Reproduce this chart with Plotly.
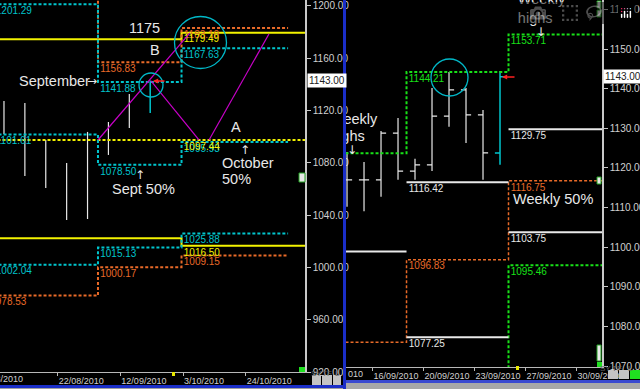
import plotly.graph_objects as go

# ---------------- data: left panel (weekly bars, monthly levels) ----------------
week_dates = ["2010-08-04", "2010-08-11", "2010-08-18", "2010-08-25",
              "2010-09-01", "2010-09-08", "2010-09-15"]
week_open = [1103.0, 1118.1, 1076.8, 1068.4, 1063.8, 1103.6, 1109.7]
week_high = [1127.3, 1125.7, 1097.4, 1079.8, 1103.6, 1111.2, 1132.6]
week_low = [1102.0, 1069.9, 1060.7, 1036.3, 1037.0, 1086.0, 1106.6]
week_close = [1118.9, 1075.3, 1069.9, 1063.0, 1102.8, 1108.1, 1118.1]

cur_week_date = ["2010-09-22"]
cur_week_open = [1118.1]
cur_week_high = [1143.0]
cur_week_low = [1118.1]
cur_week_close = [1143.0]

month_edges = ["2010-07-31 12:00", "2010-09-04 12:00", "2010-10-02 12:00", "2010-11-07 05:00"]
long_edges = ["2010-07-01", "2010-09-04 12:00", "2010-10-02 12:00", "2010-11-30"]
m_cyan_top = [1201.29, 1141.88, 1167.63]
m_cyan_mid = [1101.61, 1078.50, 1095.93]
m_cyan_bot = [1002.04, 1015.13, 1025.88]
m_orange_top = [1212.00, 1156.83, 1183.10]
m_orange_bot = [978.53, 1000.17, 1009.15]
m_yellow_top = [1174.40, 1174.40, 1179.49]
m_yellow_mid = [1097.44, 1097.44, 1097.44]
m_yellow_bot = [1022.30, 1022.30, 1016.50]

trend1_x = ["2010-09-04 12:00", "2010-10-05 08:00"]
trend1_y = [1097.44, 1179.30]
trend2_x = ["2010-09-22 06:00", "2010-10-08 08:00"]
trend2_y = [1142.60, 1097.44]
trend3_x = ["2010-10-11 17:00", "2010-10-31 19:00"]
trend3_y = [1097.44, 1178.50]

left_tick_dates = ["2010-08-22", "2010-09-12", "2010-10-03", "2010-10-24"]
left_tick_text = ["22/08/2010", "12/09/2010", "3/10/2010", "24/10/2010"]
left_y_ticks = [920, 960, 1000, 1040, 1080, 1120, 1160, 1200]

# ---------------- data: right panel (daily bars, weekly levels) ----------------
sessions = ["14/09/2010", "15/09/2010", "16/09/2010", "17/09/2010", "19/09/2010",
            "20/09/2010", "21/09/2010", "22/09/2010", "23/09/2010", "24/09/2010",
            "26/09/2010", "27/09/2010", "28/09/2010", "29/09/2010", "30/09/2010",
            "01/10/2010"]
day_open = [1117.0, 1117.0, 1117.0, 1128.8, 1119.2, 1120.8, 1133.1, 1139.7, 1133.4]
day_high = [1124.0, 1121.5, 1129.3, 1132.6, 1122.3, 1140.2, 1144.21, 1140.2, 1134.6]
day_low = [1110.2, 1109.1, 1112.7, 1117.0, 1117.0, 1119.2, 1130.4, 1126.3, 1117.0]
day_close = [1117.0, 1117.0, 1128.8, 1119.2, 1120.8, 1133.1, 1139.7, 1133.4, 1123.8]
cur_day_open = [1123.8]
cur_day_high = [1144.5]
cur_day_low = [1120.8]
cur_day_close = [1143.0]

week_starts = ["19/09/2010", "26/09/2010"]
w_green_high = [1123.70, 1144.21, 1153.71]
w_green_low = [1050.00, 1055.00, 1095.46]
w_orange_mid = [1076.00, 1096.83, 1116.75]
w_white = [[1098.90], [1116.42, 1077.25], [1129.75, 1103.75]]

right_tick_text = ["16/09/2010", "20/09/2010", "23/09/2010", "27/09/2010", "30/09/2010"]

# ---------------- helpers ----------------
W, H = 640, 389
MB = 17
PH = H - MB

def px(x):
    return x / W

def py(y):
    return (PH - y) / PH

CYAN = "#00c4cc"
ORANGE = "#e86a28"
YELLOW = "#f2f200"
GREEN = "#18e018"
WHITE = "#e8e8e8"
MAGENTA = "#c800c8"
LBL_FONT = "Liberation Sans Narrow, Liberation Sans, Arial"
TXT_FONT = "Liberation Sans, Arial"
ARROW_FONT = "DejaVu Sans"

fig = go.Figure()

def step(edges, vals, color, dash, width, xa, ya):
    fig.add_trace(go.Scatter(
        x=list(edges), y=list(vals) + [vals[-1]], mode="lines",
        line=dict(shape="hv", color=color, dash=dash, width=width),
        xaxis=xa, yaxis=ya, hoverinfo="skip", showlegend=False))

def labels(xs, vals, color, xa, ya):
    fig.add_trace(go.Scatter(
        x=list(xs), y=list(vals), mode="markers+text",
        text=[f"{v:.2f}" for v in vals], textposition="bottom right",
        textfont=dict(family=LBL_FONT, size=10, color=color),
        marker=dict(size=2, color="rgba(0,0,0,0)"),
        cliponaxis=True, xaxis=xa, yaxis=ya, hoverinfo="skip", showlegend=False))

DASH = "3px,2px"

# ---- left panel levels
step(long_edges, m_yellow_top, YELLOW, "solid", 2, "x", "y")
step(long_edges, m_yellow_bot, YELLOW, "solid", 2, "x", "y")
step(long_edges, m_yellow_mid, YELLOW, DASH, 2, "x", "y")
for vals in (m_orange_top, m_orange_bot):
    step(month_edges, vals, ORANGE, DASH, 2, "x", "y")
for vals in (m_cyan_top, m_cyan_mid, m_cyan_bot):
    step(month_edges, vals, CYAN, DASH, 2, "x", "y")

for vals in (m_orange_top, m_orange_bot):
    labels(month_edges[:3], vals, ORANGE, "x", "y")
for vals in (m_cyan_top, m_cyan_mid, m_cyan_bot):
    labels(month_edges[:3], vals, CYAN, "x", "y")
labels([long_edges[2]] * 3, [m_yellow_top[2], m_yellow_mid[2], m_yellow_bot[2]], YELLOW, "x", "y")

for tx, ty in ((trend1_x, trend1_y), (trend2_x, trend2_y), (trend3_x, trend3_y)):
    fig.add_trace(go.Scatter(x=tx, y=ty, mode="lines", line=dict(color=MAGENTA, width=1.2),
                             xaxis="x", yaxis="y", hoverinfo="skip", showlegend=False))

fig.add_trace(go.Ohlc(x=week_dates, open=week_open, high=week_high, low=week_low, close=week_close,
                      increasing_line_color=WHITE, decreasing_line_color=WHITE,
                      line_width=1.2, tickwidth=0.33, xaxis="x", yaxis="y", showlegend=False))
fig.add_trace(go.Ohlc(x=cur_week_date, open=cur_week_open, high=cur_week_high, low=cur_week_low,
                      close=cur_week_close, increasing_line_color=CYAN, decreasing_line_color=CYAN,
                      line_width=1.5, tickwidth=0.33, xaxis="x", yaxis="y", showlegend=False))

# ---- right panel levels
week_edges = [-4.5] + [sessions.index(d) - 0.5 for d in week_starts] + [len(sessions) - 0.5]
step(week_edges, w_green_low, GREEN, DASH, 2, "x2", "y2")
step(week_edges, w_orange_mid, ORANGE, DASH, 1.5, "x2", "y2")
step(week_edges, w_green_high, GREEN, DASH, 2, "x2", "y2")
wx, wy, lx, lv = [], [], [], []
for k, lvls in enumerate(w_white):
    for v in lvls:
        wx += [week_edges[k], week_edges[k + 1], None]
        wy += [v, v, None]
        lx.append(week_edges[k])
        lv.append(v)
fig.add_trace(go.Scatter(x=wx, y=wy, mode="lines", line=dict(color=WHITE, width=2),
                         xaxis="x2", yaxis="y2", hoverinfo="skip", showlegend=False))
labels(lx, lv, WHITE, "x2", "y2")
labels(week_edges[:3], w_green_high, GREEN, "x2", "y2")
labels(week_edges[:3], w_green_low, GREEN, "x2", "y2")
labels(week_edges[:3], w_orange_mid, ORANGE, "x2", "y2")

day_x = list(range(len(day_open)))
fig.add_trace(go.Ohlc(x=day_x, open=day_open, high=day_high, low=day_low, close=day_close,
                      increasing_line_color=WHITE, decreasing_line_color=WHITE,
                      line_width=1.2, tickwidth=0.3, xaxis="x2", yaxis="y2", showlegend=False))
fig.add_trace(go.Ohlc(x=[len(day_open)], open=cur_day_open, high=cur_day_high, low=cur_day_low,
                      close=cur_day_close, increasing_line_color=CYAN, decreasing_line_color=CYAN,
                      line_width=1.5, tickwidth=0.3, xaxis="x2", yaxis="y2", showlegend=False))

# "Weekly highs" texts inside right panel (clipped by the panel)
wk_txt = ["Weekly", "highs", "Weekly", "highs"]
wk_x = [-1.0, -1.0, 10.05, 10.05]
wk_y = [1132.1, 1127.8, 1162.35, 1157.6]
fig.add_trace(go.Scatter(x=wk_x, y=wk_y, mode="text", text=wk_txt, textposition="middle right",
                         textfont=dict(family=TXT_FONT, size=14.5, color=WHITE), cliponaxis=True,
                         xaxis="x2", yaxis="y2", hoverinfo="skip", showlegend=False))
fig.add_trace(go.Scatter(x=[0.3, 11.4], y=[1124.3, 1154.1], mode="text", text=["↓", "↓"],
                         textposition="middle center",
                         textfont=dict(family=ARROW_FONT, size=12, color=WHITE), cliponaxis=True,
                         xaxis="x2", yaxis="y2", hoverinfo="skip", showlegend=False))

# ---------------- layout ----------------
axfont = dict(family=LBL_FONT, size=10, color="#d0d0d0")
common_x = dict(showgrid=False, zeroline=False, showline=True, linecolor="#b8b8b8", linewidth=1,
                ticks="outside", ticklen=3, tickcolor="#b8b8b8", tickangle=0, automargin=False,
                tickfont=dict(family=LBL_FONT, size=9, color="#d0d0d0"),
                ticklabelposition="outside right", rangeslider=dict(visible=False), fixedrange=True)
common_y = dict(showgrid=False, zeroline=False, showline=True, linecolor="#c8c8c8", linewidth=1.5,
                side="right", ticks="outside", ticklen=4, tickcolor="#c8c8c8", automargin=False,
                tickfont=axfont, tickformat=".2f", fixedrange=True)

fig.update_layout(
    width=W, height=H, margin=dict(l=0, r=0, t=0, b=MB, autoexpand=False),
    paper_bgcolor="black", plot_bgcolor="black", showlegend=False,
    xaxis=dict(domain=[0, px(305)], type="date",
               range=["2010-08-02 16:00", "2010-11-12 21:00"],
               tickmode="array", tickvals=left_tick_dates, ticktext=left_tick_text,
               anchor="y", **common_x),
    yaxis=dict(domain=[0, 1], range=[920, 1204.5], tickmode="array", tickvals=left_y_ticks,
               anchor="x", **common_y),
    xaxis2=dict(domain=[px(346), px(602)], range=[-0.06, 15.0], tickmode="array",
                tickvals=[sessions.index(t) - 0.5 for t in right_tick_text], ticktext=right_tick_text,
                anchor="y2", **common_x),
    yaxis2=dict(domain=[5 / PH, 1], range=[1069.75, 1162.4], dtick=10, tick0=1070,
                anchor="x2", **common_y),
)

ann = []
def text(x, y, s, size=14.5, xanchor="center", color=WHITE, font=TXT_FONT):
    ann.append(dict(xref="paper", yref="paper", x=px(x), y=py(y), text=s, showarrow=False,
                    xanchor=xanchor, yanchor="middle", font=dict(family=font, size=size, color=color)))

text(144, 28, "1175")
text(155, 50, "B")
text(17, 81, "September", xanchor="left")
text(92, 81, "→", size=12, font=ARROW_FONT)
text(140, 175, "↑", size=12, font=ARROW_FONT)
text(110, 189, "Sept 50%", xanchor="left")
text(236, 127, "A")
text(245, 150, "↑", size=12, font=ARROW_FONT)
text(220, 163, "October", xanchor="left")
text(220, 179, "50%", xanchor="left")
text(553, 199, "Weekly 50%")
# clipped date labels at the far left of each panel
ann.append(dict(xref="paper", yref="paper", x=px(25), y=py(379), text="1/08/2010", showarrow=False,
                xanchor="right", yanchor="middle", font=dict(family=LBL_FONT, size=9, color="#d0d0d0")))
ann.append(dict(xref="paper", yref="paper", x=px(346), y=py(374), text="010", showarrow=False,
                xanchor="left", yanchor="middle", font=dict(family=LBL_FONT, size=9, color="#d0d0d0")))

# current price boxes
for xx, yr in ((307, "y"), (603, "y2")):
    ann.append(dict(xref="paper", yref=yr, x=px(xx), y=cur_day_close[0], text=f"{cur_day_close[0]:.2f}",
                    showarrow=False, xanchor="left", yanchor="middle", bgcolor="white", borderpad=1,
                    font=dict(family=LBL_FONT, size=10, color="#202020")))

# red arrows
for tipx, tipy, L in ((153, 81, 13), (502, 77, 14)):
    ann.append(dict(xref="paper", yref="paper", x=px(tipx), y=py(tipy), ax=L, ay=0, text="",
                    showarrow=True, arrowhead=2, arrowsize=0.8, arrowwidth=1.3, arrowcolor="#ff2020"))

shapes = []
def rect(x0, y0, x1, y1, fill, line=None, lw=0):
    shapes.append(dict(type="rect", xref="paper", yref="paper", x0=px(x0), x1=px(x1),
                       y0=py(y1), y1=py(y0), fillcolor=fill,
                       line=dict(color=line or fill, width=lw), layer="above"))

# buttons
for (x0, x1, t, f) in ((312, 321, "SY", "#c4c4c4"), (322, 332, "TF", "#c4c4c4"), (333, 341, "L", "#c4c4c4")):
    rect(x0, 375, x1, 385, f)
    ann.append(dict(xref="paper", yref="paper", x=px((x0 + x1) / 2), y=py(380), text=t, showarrow=False,
                    font=dict(family=LBL_FONT, size=8, color="#606060")))
for (x0, x1, t, f) in ((608, 618, "SY", "#c4c4c4"), (619, 629, "TF", "#c4c4c4"), (630, 640, "L", "#20e020")):
    rect(x0, 370, x1, 379, f)
    ann.append(dict(xref="paper", yref="paper", x=px((x0 + x1) / 2), y=py(374.5), text=t, showarrow=False,
                    font=dict(family=LBL_FONT, size=8, color="#606060")))

# window frame: separator and bottom strips
rect(343, 0, 346, 389, "#1a2ec8")
rect(0, 385, 343, 388, "#1a2ec8")
rect(0, 388, 343, 389, "#a0a0a0")
rect(346, 380, 640, 383, "#3a4ad0")
rect(346, 383, 640, 389, "#a8a8a8")

# small markers on axes
rect(299, 173, 305, 182, "#e8e8e8", "#20a020", 1)
rect(299, 367, 305, 372, "#20e020")
rect(172, 372, 175, 376, "#e8e800")
rect(597, 1, 601, 8, "#e8e8e8", "#20a020", 1)
rect(597, 10, 601, 17, "#e8e8e8", "#20a020", 1)
rect(597, 177, 601, 184, "#e8e8e8", "#20a020", 1)
rect(597, 345, 601, 361, "#e8e8e8", "#20a020", 1)
rect(597, 362, 602, 367, "#20e020")
rect(516, 366, 519, 370, "#e8e800")

# circles
for cx, cy, r in ((151, 85, 12), (200.5, 42.5, 26), (449.5, 77.5, 18.5)):
    shapes.append(dict(type="circle", xref="paper", yref="paper",
                       x0=px(cx - r), x1=px(cx + r), y0=py(cy + r), y1=py(cy - r),
                       line=dict(color="#00b8c8", width=1.3), layer="above"))

fig.update_layout(annotations=ann, shapes=shapes)
fig.write_html("out.html",
               post_script="document.body.style.margin='0px';document.body.style.padding='0px';"
                           "document.body.style.background='black';")
